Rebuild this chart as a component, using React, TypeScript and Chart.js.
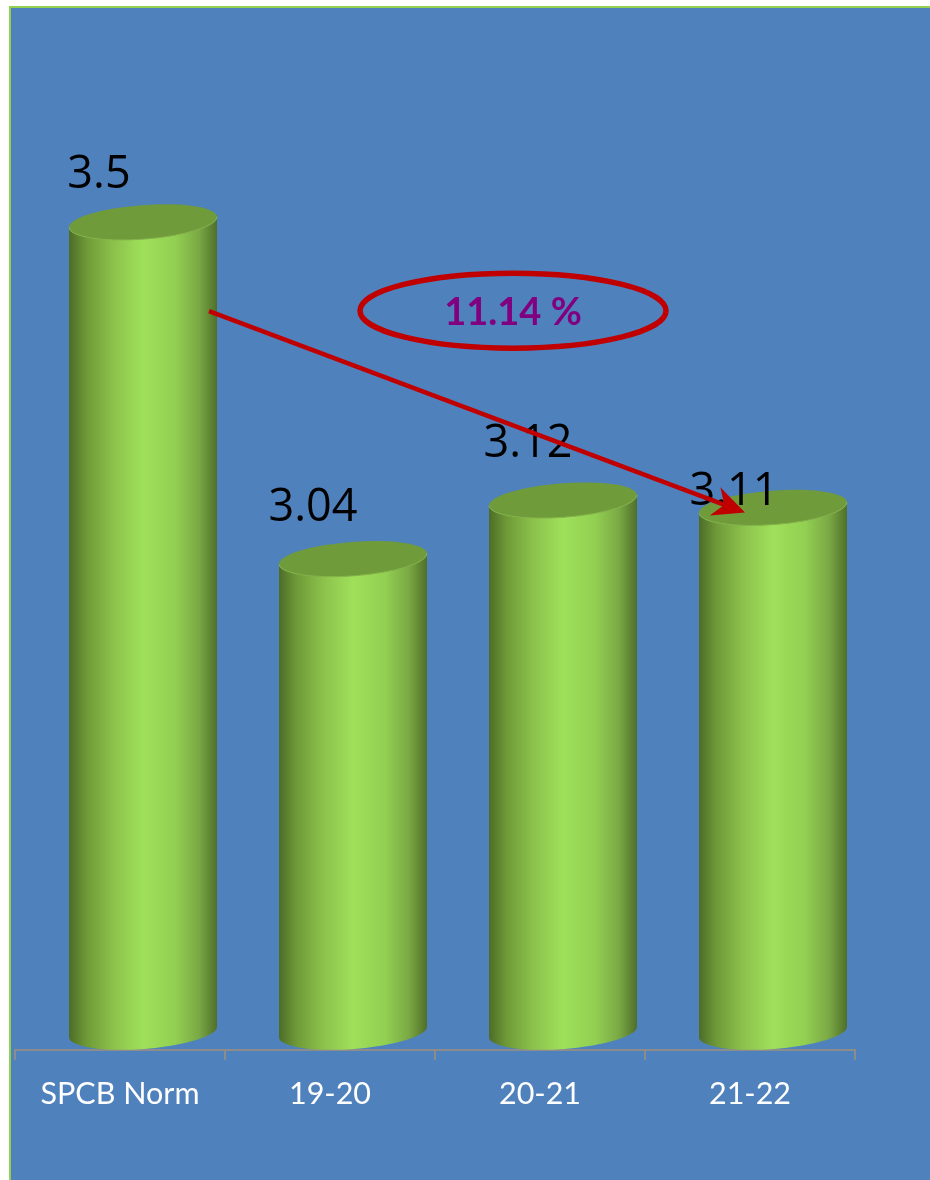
import React, { useEffect, useRef } from "react";
import { Chart, BarController, BarElement, registerables } from "chart.js";

const categories = ["SPCB Norm", "19-20", "20-21", "21-22"];
const values = [3.5, 3.04, 3.12, 3.11];
const labelOffsetsX = [-44, -40, -35, -39];
const labelOffsetsY = [-47, -51, -56, -15];
const changeLabel = "11.14 %";

const TILT = -0.075;
const CAP_RY = 17;
// Horizontal shift of the cylinders from their category centres (3D depth).
const DEPTH_X = 23;

// Bar element drawn as a slightly tilted 3D cylinder with a shaded body and a flat cap.
class CylinderElement extends BarElement {
  static id = "cylinder";
  draw(ctx: CanvasRenderingContext2D) {
    const props = (this as any).getProps(["x", "y", "base", "width"]);
    const { y, base, width } = props;
    const x = props.x + DEPTH_X;
    const rx = width / 2 / Math.cos(TILT);
    const dy = (width / 2) * Math.tan(-TILT);
    const left = x - width / 2;
    const right = x + width / 2;

    const shade = ctx.createLinearGradient(left, 0, right, 0);
    shade.addColorStop(0, "#4d6c28");
    shade.addColorStop(0.12, "#6f9a38");
    shade.addColorStop(0.3, "#8cc24c");
    shade.addColorStop(0.5, "#9fe05a");
    shade.addColorStop(0.72, "#92cf52");
    shade.addColorStop(0.88, "#7aa844");
    shade.addColorStop(1, "#4f6f2a");

    ctx.save();
    ctx.beginPath();
    ctx.moveTo(left, y + dy);
    ctx.lineTo(left, base + dy);
    ctx.ellipse(x, base, rx, CAP_RY, TILT, Math.PI, 0, true);
    ctx.lineTo(right, y - dy);
    ctx.ellipse(x, y, rx, CAP_RY, TILT, 0, Math.PI, false);
    ctx.closePath();
    ctx.fillStyle = shade;
    ctx.fill();

    ctx.beginPath();
    ctx.ellipse(x, y, rx, CAP_RY, TILT, 0, Math.PI * 2);
    ctx.fillStyle = "#6f9b3b";
    ctx.fill();

    // Thin highlight along the front edge of the cap.
    ctx.beginPath();
    ctx.ellipse(x, y, rx, CAP_RY, TILT, 0, Math.PI, false);
    ctx.strokeStyle = "#86b548";
    ctx.lineWidth = 1;
    ctx.stroke();
    ctx.restore();
  }
}

class CylinderController extends BarController {
  static id = "cylinder";
  static defaults = { ...BarController.defaults, dataElementType: "cylinder" };
}

Chart.register(...registerables, CylinderElement, CylinderController);

// Blue panel with its green outline, open on the right and bottom edges.
const panelPlugin = {
  id: "panel",
  beforeDraw(chart: any) {
    const { ctx, width, height } = chart;
    ctx.save();
    ctx.fillStyle = "#ffffff";
    ctx.fillRect(0, 0, width, height);
    ctx.fillStyle = "#4f81bd";
    ctx.fillRect(10, 7, width - 10, height - 7);
    ctx.strokeStyle = "#92d050";
    ctx.lineWidth = 2;
    ctx.beginPath();
    ctx.moveTo(10, height);
    ctx.lineTo(10, 7);
    ctx.lineTo(width, 7);
    ctx.stroke();
    ctx.restore();
  },
};

// Value labels beside each cylinder, then the change callout on top.
const annotationPlugin = {
  id: "annotations",
  afterDatasetsDraw(chart: any) {
    const { ctx } = chart;
    const xs = chart.scales.x;
    const ys = chart.scales.y;
    ctx.save();
    ctx.fillStyle = "#000000";
    ctx.font = '45px "Open Sans"';
    ctx.textAlign = "center";
    ctx.textBaseline = "middle";
    values.forEach((v, i) => {
      ctx.fillText(
        String(v),
        xs.getPixelForValue(i) + DEPTH_X + labelOffsetsX[i],
        ys.getPixelForValue(v) + labelOffsetsY[i]
      );
    });

    // Callout ring sits between the first and last bars.
    const cx = xs.getPixelForValue(1.5) + 78;
    const cy = ys.getPixelForValue(3.5) + 88.5;
    ctx.beginPath();
    ctx.ellipse(cx, cy, 153, 37.5, 0, 0, Math.PI * 2);
    ctx.strokeStyle = "#c00000";
    ctx.lineWidth = 5.5;
    ctx.stroke();
    ctx.fillStyle = "#800080";
    ctx.font = 'bold 38px Lato';
    ctx.fillText(changeLabel, cx, cy + 2);

    // Arrow from the norm bar down to the latest year.
    const x0 = xs.getPixelForValue(0) + DEPTH_X + 66;
    const y0 = ys.getPixelForValue(3.5) + 89;
    const x1 = xs.getPixelForValue(3) + DEPTH_X - 28;
    const y1 = ys.getPixelForValue(3.11) + 5;
    const a = Math.atan2(y1 - y0, x1 - x0);
    const shaft = 14;
    ctx.beginPath();
    ctx.moveTo(x0, y0);
    ctx.lineTo(x1 - shaft * Math.cos(a), y1 - shaft * Math.sin(a));
    ctx.strokeStyle = "#c00000";
    ctx.lineWidth = 4.5;
    ctx.stroke();
    ctx.save();
    ctx.translate(x1, y1);
    ctx.rotate(a);
    ctx.beginPath();
    ctx.moveTo(0, 0);
    ctx.lineTo(-32, -15);
    ctx.lineTo(-22, 0);
    ctx.lineTo(-32, 15);
    ctx.closePath();
    ctx.fillStyle = "#c00000";
    ctx.fill();
    ctx.restore();
    ctx.restore();
  },
};

export default function App() {
  const ref = useRef<HTMLCanvasElement>(null);
  useEffect(() => {
    const chart = new Chart(ref.current as HTMLCanvasElement, {
      type: "cylinder" as any,
      data: {
        labels: categories,
        datasets: [
          {
            data: values,
            base: 2.3936,
            clip: false,
            categoryPercentage: 1,
            barPercentage: 148 / 210,
            backgroundColor: "#9fe05a",
          } as any,
        ],
      },
      plugins: [panelPlugin, annotationPlugin],
      options: {
        animation: false,
        responsive: false,
        layout: { padding: { left: 15, right: 75, top: 75, bottom: 0 } },
        plugins: { legend: { display: false }, tooltip: { enabled: false }, title: { display: false } },
        scales: {
          x: {
            type: "category",
            offset: true,
            afterFit(scale: any) {
              scale.height = 130;
            },
            grid: { display: true, drawOnChartArea: false, drawTicks: true, tickLength: 10, color: "#8c8c8c", lineWidth: 2, offset: true },
            border: { display: true, color: "#8c8c8c", width: 2 },
            ticks: { color: "#ffffff", font: { family: "Lato", size: 30.5 }, padding: 16, maxRotation: 0, autoSkip: false },
          },
          y: { type: "linear", display: false, min: 2.369, max: 3.701 },
        },
      } as any,
    });
    return () => chart.destroy();
  }, []);
  return (
    <div style={{ position: "absolute", left: 0, top: 0, width: 930, height: 1180 }}>
      <canvas ref={ref} width={930} height={1180} style={{ display: "block" }} />
    </div>
  );
}
